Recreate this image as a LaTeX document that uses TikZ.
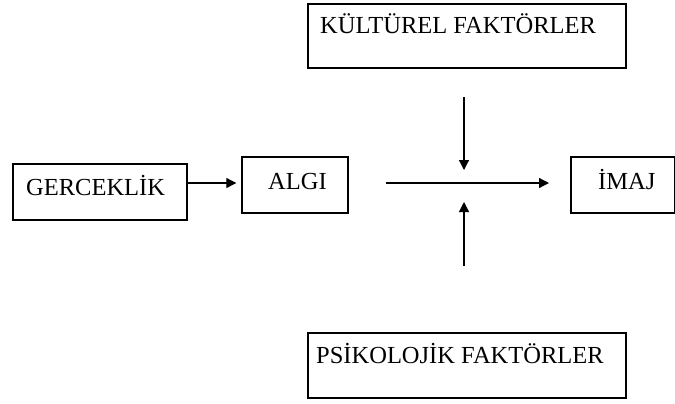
\documentclass[tikz,border=0pt]{standalone}
\usepackage{fontspec}
\setmainfont{Liberation Serif}
\usetikzlibrary{arrows.meta}
\begin{document}
\begin{tikzpicture}[x=1bp,y=-1bp,
  box/.style={draw, line width=1.4bp, inner sep=0pt, minimum width=#1},
  lbl/.style={anchor=base west, inner sep=0pt, font=\fontsize{24.6}{28}\selectfont},
  arr/.style={line width=1.2bp, -{Triangle[length=10bp,width=10bp]}}]
\useasboundingbox (0,0) rectangle (675,403);
% boxes
\node[box=174bp, minimum height=56bp] (g) at (100,192) {};
\node[box=106bp, minimum height=56bp] (a) at (295,185) {};
\node[box=104bp, minimum height=56bp] (m) at (623,185) {};
\node[box=318bp, minimum height=64bp] (k) at (467,36) {};
\node[box=318bp, minimum height=65bp] (p) at (467,365.5) {};
% texts
\node[lbl] (gt) at (26,195) {GERCEKLİK};
\node[lbl] (at) at (268,189) {ALGI};
\node[lbl] (mt) at (598,189) {İMAJ};
\node[lbl] (kt) at (320,33) {KÜLTÜREL FAKTÖRLER};
\node[lbl] (pt) at (316,363) {PSİKOLOJİK FAKTÖRLER};
% connector end points
\coordinate (hs) at (386,183);
\coordinate (he) at (549,183);
\coordinate (ds) at (464,97);
\coordinate (de) at (464,170);
\coordinate (us) at (464,266);
\coordinate (ue) at (464,202);
% arrows
\draw[arr] (g.east |- 0,183) -- ([xshift=-5bp]a.west |- 0,183);
\draw[arr] (hs) -- (he);
\draw[arr] (ds) -- (de);
\draw[arr] (us) -- (ue);
\end{tikzpicture}
\end{document}
